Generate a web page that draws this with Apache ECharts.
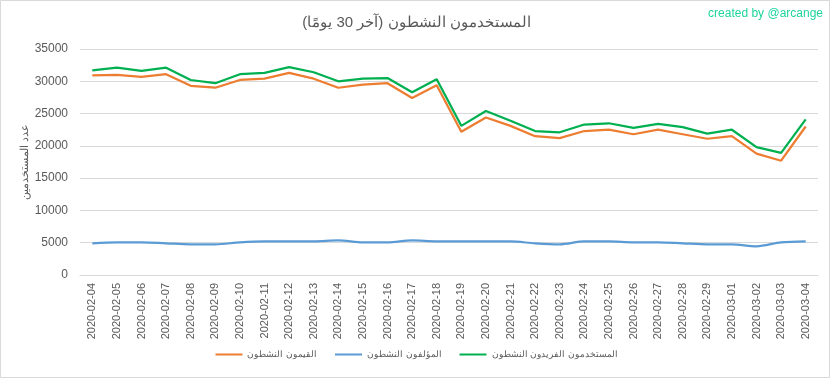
<!DOCTYPE html>
<html>
<head>
<meta charset="utf-8">
<script src="https://cdn.jsdelivr.net/npm/echarts@6/dist/echarts.min.js"></script>
<style>
html,body{margin:0;padding:0;background:#fff;}
#chart{width:833px;height:379px;}
</style>
</head>
<body>
<div id="chart"></div>
<script>
const dates = ["2020-02-04","2020-02-05","2020-02-06","2020-02-07","2020-02-08","2020-02-09","2020-02-10","2020-02-11","2020-02-12","2020-02-13","2020-02-14","2020-02-15","2020-02-16","2020-02-17","2020-02-18","2020-02-19","2020-02-20","2020-02-21","2020-02-22","2020-02-23","2020-02-24","2020-02-25","2020-02-26","2020-02-27","2020-02-28","2020-02-29","2020-03-01","2020-03-02","2020-03-03","2020-03-04"];
const curators = [30900,31000,30700,31100,29300,29000,30200,30400,31300,30400,29000,29500,29700,27400,29400,22200,24400,23100,21500,21200,22300,22500,21800,22500,21800,21100,21500,18800,17700,23000];
const authors = [4900,5050,5050,4900,4750,4750,5050,5200,5200,5200,5350,5050,5050,5350,5200,5200,5200,5200,4900,4750,5200,5200,5050,5050,4900,4750,4750,4450,5050,5200];
const uniqueUsers = [31700,32100,31600,32100,30200,29700,31100,31300,32200,31400,30000,30400,30500,28300,30300,23100,25400,23900,22300,22100,23300,23500,22800,23400,22900,21900,22500,19800,18900,24100];
const seriesNames = ["القيمون النشطون","المؤلفون النشطون","المستخدمون الفريدون النشطون"];
const yTicks = [0,5000,10000,15000,20000,25000,30000,35000];

const chart = echarts.init(document.getElementById('chart'));
const font = 'Liberation Sans, Arial, sans-serif';
chart.setOption({
  animation:false,
  backgroundColor:'#fff',
  title:{
    text:'المستخدمون النشطون (آخر 30 يومًا)',
    left:'center', top:10,
    textStyle:{fontFamily:font,fontSize:15,fontWeight:'normal',color:'#595959'}
  },
  graphic:[
    {type:'rect',shape:{x:0.5,y:0.5,width:829,height:377},style:{fill:'none',stroke:'#d9d9d9',lineWidth:1},silent:true},
    {type:'text',right:10,top:8,style:{text:'created by @arcange',fill:'#1ed49c',font:'12px '+font}}
  ],
  legend:{
    bottom:15, left:'center', itemWidth:27, itemHeight:8, itemGap:18,
    icon:'path://M0,3 L27,3 L27,5 L0,5 Z',
    textStyle:{fontFamily:font,fontSize:9,color:'#595959'},
    data:seriesNames
  },
  grid:{left:80,right:15,top:49,bottom:104},
  xAxis:{
    type:'category', data:dates, boundaryGap:true,
    axisLine:{lineStyle:{color:'#d9d9d9'}},
    axisTick:{show:false},
    axisLabel:{rotate:90,fontFamily:font,fontSize:11,color:'#595959',margin:8,interval:0}
  },
  yAxis:{
    type:'value', min:yTicks[0], max:yTicks[yTicks.length-1], interval:5000,
    name:'عدد المستخدمين', nameLocation:'middle', nameGap:50, nameRotate:90, nameMoveOverlap:false,
    nameTextStyle:{fontFamily:font,fontSize:11,color:'#595959'},
    axisLine:{show:false}, axisTick:{show:false},
    axisLabel:{fontFamily:font,fontSize:12,color:'#595959',margin:12,formatter:function(v){return String(v);}},
    splitLine:{lineStyle:{color:'#d9d9d9'}}
  },
  series:[
    {name:seriesNames[0],type:'line',data:curators,symbol:'none',lineStyle:{color:'#ed7d31',width:2.25},itemStyle:{color:'#ed7d31'}},
    {name:seriesNames[1],type:'line',data:authors,symbol:'none',smooth:0.3,lineStyle:{color:'#5b9bd5',width:2.25},itemStyle:{color:'#5b9bd5'}},
    {name:seriesNames[2],type:'line',data:uniqueUsers,symbol:'none',lineStyle:{color:'#00b050',width:2.25},itemStyle:{color:'#00b050'}}
  ]
});
</script>
</body>
</html>
